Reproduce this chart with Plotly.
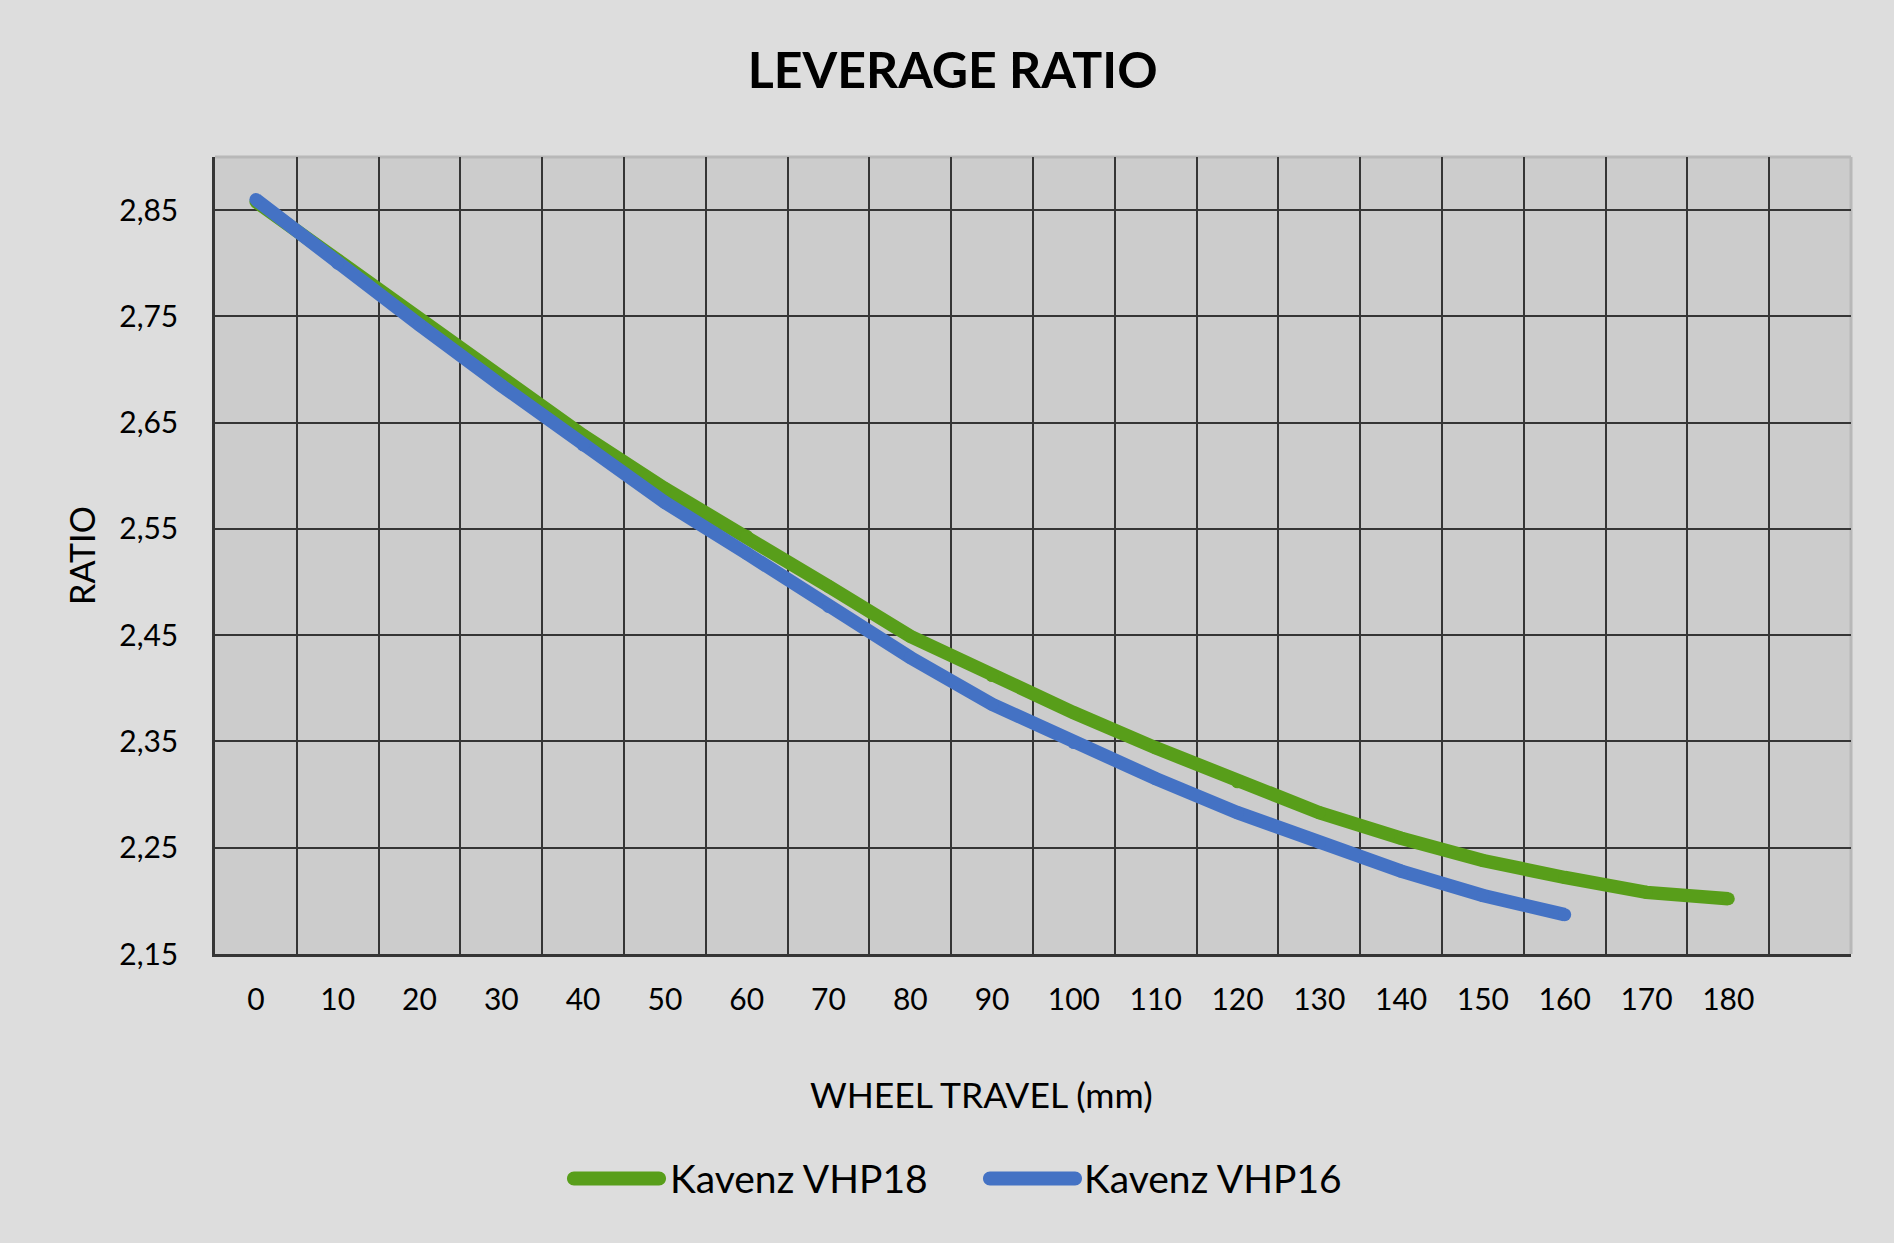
import plotly.graph_objects as go

# ---- data ----
travel_vhp18 = [0, 10, 20, 30, 40, 50, 60, 70, 80, 90, 100, 110, 120, 130, 140, 150, 160, 170, 180]
ratio_vhp18 = [2.858, 2.803, 2.746, 2.691, 2.638, 2.588, 2.543, 2.496, 2.449, 2.412, 2.377,
               2.344, 2.312, 2.283, 2.259, 2.238, 2.222, 2.208, 2.202]
travel_vhp16 = [0, 10, 20, 30, 40, 50, 60, 70, 80, 90, 100, 110, 120, 130, 140, 150, 160]
ratio_vhp16 = [2.860, 2.800, 2.742, 2.685, 2.629, 2.575, 2.527, 2.477, 2.429, 2.385, 2.349,
               2.315, 2.283, 2.255, 2.228, 2.205, 2.187]
x_tick_values = [0, 10, 20, 30, 40, 50, 60, 70, 80, 90, 100, 110, 120, 130, 140, 150, 160, 170, 180]
series_names = ["Kavenz VHP18", "Kavenz VHP16"]

GREEN = "#589E1A"
BLUE = "#4472C4"
GRID = "#353535"
FONT = "Lato"
LW = 13.5

fig = go.Figure()
for xs, ys, name, col in [(travel_vhp18, ratio_vhp18, series_names[0], GREEN),
                          (travel_vhp16, ratio_vhp16, series_names[1], BLUE)]:
    fig.add_trace(go.Scatter(
        x=xs, y=ys, name=name, mode="lines+markers",
        line=dict(color=col, width=LW),
        marker=dict(color=col, size=13, line=dict(width=0)),
        showlegend=False, hoverinfo="x+y+name"))

W, H = 1894, 1243
ml, mr, mt, mb = 215, 43, 157, 289

fig.update_layout(
    width=W, height=H,
    margin=dict(l=ml, r=mr, t=mt, b=mb, autoexpand=False),
    paper_bgcolor="#DDDDDD",
    plot_bgcolor="#CCCCCC",
    separators=",.",
    font=dict(family=FONT, color="#000000", size=30),
    title=dict(text="<b>LEVERAGE RATIO</b>", x=0.503, xref="container", xanchor="center",
               y=1 - 70 / H, yref="container", yanchor="middle",
               font=dict(family=FONT, size=50, color="#000000")),
    xaxis=dict(
        range=[-5, 195], tickmode="array", tickvals=x_tick_values,
        ticktext=[str(v) for v in x_tick_values],
        showgrid=False, zeroline=False,
        showline=True, linecolor=GRID, linewidth=3,
        ticks="", ticklabelstandoff=17,
        tickfont=dict(family=FONT, size=30, color="#000000"),
        minor=dict(tickmode="linear", tick0=-5, dtick=10, showgrid=True,
                   gridcolor=GRID, gridwidth=2.3, ticks=""),
        fixedrange=True,
    ),
    yaxis=dict(
        range=[2.15, 2.90], tickmode="linear", tick0=2.15, dtick=0.1,
        tickformat=".2f",
        showgrid=True, gridcolor=GRID, gridwidth=2.3, zeroline=False,
        showline=True, linecolor=GRID, linewidth=2.5,
        ticks="", ticklabelstandoff=28,
        tickfont=dict(family=FONT, size=30, color="#000000"),
        title=dict(text="RATIO", standoff=14, font=dict(family=FONT, size=34, color="#000000")),
        fixedrange=True,
    ),
)

pw = W - ml - mr
ph = H - mt - mb

def px_x(v):
    return (v - ml) / pw

def px_y(v):
    return (mt + ph - v) / ph

# light top/right border of the plot area
fig.add_shape(type="line", xref="paper", yref="paper", x0=0, x1=1, y0=1, y1=1,
              line=dict(color="#B8B8B8", width=3), layer="between")
fig.add_shape(type="line", xref="paper", yref="paper", x0=1, x1=1, y0=0, y1=1,
              line=dict(color="#B8B8B8", width=3), layer="between")

# x axis title
fig.add_annotation(text="WHEEL TRAVEL (mm)", xref="paper", yref="paper",
                   x=px_x(981), y=px_y(1094), xanchor="center", yanchor="middle",
                   showarrow=False, font=dict(family=FONT, size=35.5, color="#000000"))

# custom legend (capsule line samples + labels)
def capsule(L, r):
    k = 0.5523 * r
    return (f"M {r},{-r} L {L - r},{-r} C {L - r + k},{-r} {L},{-k} {L},0 "
            f"C {L},{k} {L - r + k},{r} {L - r},{r} L {r},{r} "
            f"C {r - k},{r} 0,{k} 0,0 C 0,{-k} {r - k},{-r} {r},{-r} Z")

legend_items = [(series_names[0], GREEN, 567, 668), (series_names[1], BLUE, 983, 1082)]
for name, col, sx, tx in legend_items:
    fig.add_shape(type="path", xref="paper", yref="paper",
                  xsizemode="pixel", ysizemode="pixel",
                  xanchor=px_x(sx), yanchor=px_y(1178.5),
                  path=capsule(99, 7), fillcolor=col, line=dict(width=0))
    fig.add_annotation(text=name, xref="paper", yref="paper",
                       x=px_x(tx), y=px_y(1178), xanchor="left", yanchor="middle",
                       showarrow=False, font=dict(family=FONT, size=39, color="#000000"))

fig.write_html("out.html",
               config={"displayModeBar": False},
               post_script="document.body.style.margin='0';document.body.style.overflow='hidden';")
